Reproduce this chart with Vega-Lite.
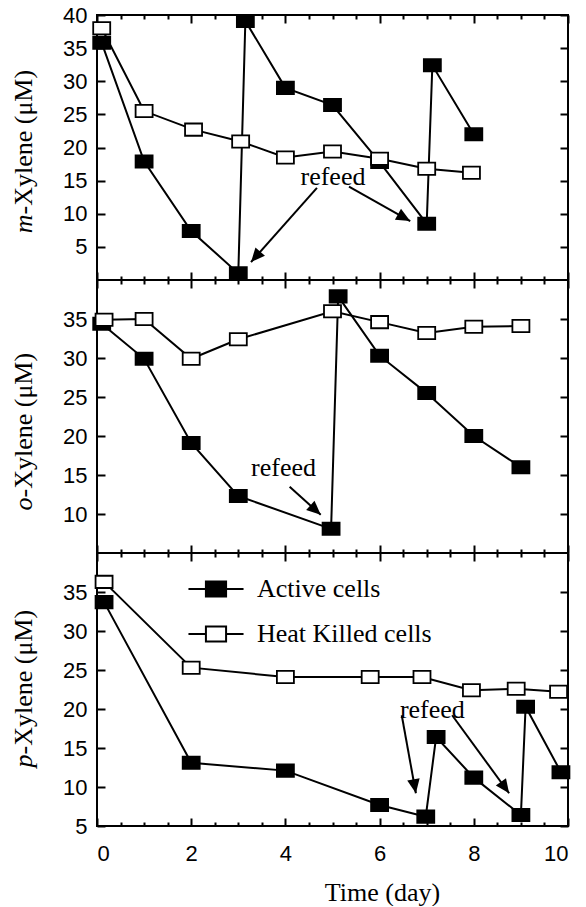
{
  "$schema": "https://vega.github.io/schema/vega-lite/v6.json",
  "background": "white",
  "padding": {"left": 9, "top": 3, "right": 5, "bottom": 0},
  "spacing": 0,
  "bounds": "flush",
  "resolve": {"scale": {"fill": "independent"}, "legend": {"fill": "independent"}},
  "datasets": {
    "pts": [
      {"panel": "m", "series": "Active cells", "day": 0.1, "value": 35.8},
      {"panel": "m", "series": "Active cells", "day": 1, "value": 17.9},
      {"panel": "m", "series": "Active cells", "day": 2, "value": 7.4},
      {"panel": "m", "series": "Active cells", "day": 3, "value": 1.0},
      {"panel": "m", "series": "Active cells", "day": 3.15, "value": 39.1},
      {"panel": "m", "series": "Active cells", "day": 4, "value": 29.0},
      {"panel": "m", "series": "Active cells", "day": 5, "value": 26.4},
      {"panel": "m", "series": "Active cells", "day": 6, "value": 17.8},
      {"panel": "m", "series": "Active cells", "day": 7, "value": 8.5},
      {"panel": "m", "series": "Active cells", "day": 7.12, "value": 32.4},
      {"panel": "m", "series": "Active cells", "day": 8, "value": 22.0},
      {"panel": "m", "series": "Heat Killed cells", "day": 0.1, "value": 38.0},
      {"panel": "m", "series": "Heat Killed cells", "day": 1, "value": 25.5},
      {"panel": "m", "series": "Heat Killed cells", "day": 2.05, "value": 22.7},
      {"panel": "m", "series": "Heat Killed cells", "day": 3.05, "value": 20.9},
      {"panel": "m", "series": "Heat Killed cells", "day": 4, "value": 18.5},
      {"panel": "m", "series": "Heat Killed cells", "day": 5, "value": 19.4},
      {"panel": "m", "series": "Heat Killed cells", "day": 6, "value": 18.3},
      {"panel": "m", "series": "Heat Killed cells", "day": 7, "value": 16.8},
      {"panel": "m", "series": "Heat Killed cells", "day": 7.95, "value": 16.2},
      {"panel": "o", "series": "Active cells", "day": 0.1, "value": 34.4},
      {"panel": "o", "series": "Active cells", "day": 1, "value": 29.9},
      {"panel": "o", "series": "Active cells", "day": 2, "value": 19.1},
      {"panel": "o", "series": "Active cells", "day": 3, "value": 12.3},
      {"panel": "o", "series": "Active cells", "day": 4.97, "value": 8.1},
      {"panel": "o", "series": "Active cells", "day": 5.12, "value": 37.9},
      {"panel": "o", "series": "Active cells", "day": 6, "value": 30.3},
      {"panel": "o", "series": "Active cells", "day": 7, "value": 25.5},
      {"panel": "o", "series": "Active cells", "day": 8, "value": 20.0},
      {"panel": "o", "series": "Active cells", "day": 9, "value": 16.0},
      {"panel": "o", "series": "Heat Killed cells", "day": 0.15, "value": 34.9},
      {"panel": "o", "series": "Heat Killed cells", "day": 1, "value": 35.0},
      {"panel": "o", "series": "Heat Killed cells", "day": 2, "value": 29.9},
      {"panel": "o", "series": "Heat Killed cells", "day": 3, "value": 32.4},
      {"panel": "o", "series": "Heat Killed cells", "day": 5, "value": 36.0},
      {"panel": "o", "series": "Heat Killed cells", "day": 6, "value": 34.6},
      {"panel": "o", "series": "Heat Killed cells", "day": 7, "value": 33.2},
      {"panel": "o", "series": "Heat Killed cells", "day": 8, "value": 34.0},
      {"panel": "o", "series": "Heat Killed cells", "day": 9, "value": 34.1},
      {"panel": "p", "series": "Active cells", "day": 0.15, "value": 33.7},
      {"panel": "p", "series": "Active cells", "day": 2, "value": 13.1},
      {"panel": "p", "series": "Active cells", "day": 4, "value": 12.1},
      {"panel": "p", "series": "Active cells", "day": 6, "value": 7.7},
      {"panel": "p", "series": "Active cells", "day": 6.98, "value": 6.2},
      {"panel": "p", "series": "Active cells", "day": 7.2, "value": 16.4},
      {"panel": "p", "series": "Active cells", "day": 8, "value": 11.2},
      {"panel": "p", "series": "Active cells", "day": 9, "value": 6.4},
      {"panel": "p", "series": "Active cells", "day": 9.1, "value": 20.3},
      {"panel": "p", "series": "Active cells", "day": 9.85, "value": 11.9},
      {"panel": "p", "series": "Heat Killed cells", "day": 0.15, "value": 36.3},
      {"panel": "p", "series": "Heat Killed cells", "day": 2, "value": 25.3},
      {"panel": "p", "series": "Heat Killed cells", "day": 4, "value": 24.1},
      {"panel": "p", "series": "Heat Killed cells", "day": 5.8, "value": 24.1},
      {"panel": "p", "series": "Heat Killed cells", "day": 6.9, "value": 24.1},
      {"panel": "p", "series": "Heat Killed cells", "day": 7.95, "value": 22.4},
      {"panel": "p", "series": "Heat Killed cells", "day": 8.9, "value": 22.6},
      {"panel": "p", "series": "Heat Killed cells", "day": 9.8, "value": 22.2}
    ],
    "notes": [
      {"panel": "m", "day": 5.01, "value": 15.6, "label": "refeed"},
      {"panel": "o", "day": 3.96, "value": 15.9, "label": "refeed"},
      {"panel": "p", "day": 7.12, "value": 19.9, "label": "refeed"}
    ],
    "arrows": [
      {"panel": "m", "id": "m1", "day": 4.67, "value": 13.9, "day2": 3.27, "value2": 2.7},
      {"panel": "m", "id": "m2", "day": 5.35, "value": 14.1, "day2": 6.65, "value2": 8.9},
      {"panel": "o", "id": "o1", "day": 4.09, "value": 13.5, "day2": 4.75, "value2": 9.9},
      {"panel": "p", "id": "p1", "day": 6.47, "value": 19.2, "day2": 6.77, "value2": 9.2},
      {"panel": "p", "id": "p2", "day": 7.54, "value": 19.2, "day2": 8.75, "value2": 9.2}
    ]
  },
  "vconcat": [
    {
      "width": 471, "height": 265,
      "resolve": {"axis": {"x": "independent", "y": "independent"}},
      "layer": [
        {"data": {"name": "pts"}, "transform": [{"filter": "datum.panel === 'm' && datum.series === 'Active cells'"}],
         "mark": {"type": "line", "color": "black", "strokeWidth": 2},
         "encoding": {
           "x": {"field": "day", "type": "quantitative", "scale": {"domain": [0, 10], "nice": false, "zero": false},
                 "axis": {"orient": "bottom", "values": [0, 2, 4, 6, 8, 10], "tickSize": -8, "tickColor": "#000000", "tickWidth": 2, "labels": false, "title": null}},
           "y": {"field": "value", "type": "quantitative", "scale": {"domain": [0, 40], "nice": false, "zero": false},
                 "axis": {"orient": "left", "values": [5, 10, 15, 20, 25, 30, 35, 40], "tickSize": -8, "tickColor": "#000000", "tickWidth": 2, "labelPadding": 18,
                          "title": "-Xylene (μM)", "titleAngle": -90, "titleAlign": "left", "titleBaseline": "alphabetic", "titleX": -66, "titleY": 199}}}},
        {"data": {"name": "pts"}, "transform": [{"filter": "datum.panel === 'm' && datum.series === 'Heat Killed cells'"}],
         "mark": {"type": "line", "color": "black", "strokeWidth": 2},
         "encoding": {
           "x": {"field": "day", "type": "quantitative", "scale": {"domain": [0, 10], "nice": false, "zero": false},
                 "axis": {"orient": "top", "values": [0, 2, 4, 6, 8, 10], "tickSize": -8, "tickColor": "#000000", "tickWidth": 2, "labels": false, "title": null}},
           "y": {"field": "value", "type": "quantitative", "scale": {"domain": [0, 40], "nice": false, "zero": false},
                 "axis": {"orient": "right", "values": [5, 10, 15, 20, 25, 30, 35, 40], "tickSize": -8, "tickColor": "#000000", "tickWidth": 2, "labels": false, "title": null}}}},
        {"data": {"name": "arrows"}, "transform": [{"filter": "datum.panel === 'm'"}],
         "mark": {"type": "rule", "color": "black", "strokeWidth": 2},
         "encoding": {
           "x": {"field": "day", "type": "quantitative", "scale": {"domain": [0, 10], "nice": false, "zero": false},
                 "axis": {"orient": "bottom", "values": [0.5, 1, 1.5, 2.5, 3, 3.5, 4.5, 5, 5.5, 6.5, 7, 7.5, 8.5, 9, 9.5], "tickSize": -4, "tickColor": "#000000", "tickWidth": 2, "labels": false, "title": null}},
           "y": {"field": "value", "type": "quantitative", "scale": {"domain": [0, 40], "nice": false, "zero": false},
                 "axis": {"orient": "left", "ticks": false, "labels": false, "title": "m", "titleFontStyle": "italic", "titleAngle": -90, "titleAlign": "right", "titleBaseline": "alphabetic", "titleX": -66, "titleY": 199}},
           "x2": {"field": "day2"},
           "y2": {"field": "value2"}}},
        {"data": {"name": "notes"}, "transform": [{"filter": "datum.panel === 'm'"}],
         "mark": {"type": "text", "font": "Liberation Serif", "fontSize": 26, "color": "black", "align": "center", "baseline": "middle"},
         "encoding": {
           "x": {"field": "day", "type": "quantitative", "scale": {"domain": [0, 10], "nice": false, "zero": false},
                 "axis": {"orient": "top", "values": [0.5, 1, 1.5, 2.5, 3, 3.5, 4.5, 5, 5.5, 6.5, 7, 7.5, 8.5, 9, 9.5], "tickSize": -4, "tickColor": "#000000", "tickWidth": 2, "labels": false, "title": null}},
           "y": {"field": "value", "type": "quantitative", "scale": {"domain": [0, 40], "nice": false, "zero": false}, "axis": null},
           "text": {"field": "label"}}},
        {"data": {"name": "pts"}, "transform": [{"filter": "datum.panel === 'm'"}],
         "mark": {"type": "point", "shape": "M-1,-0.72H1V0.72H-1Z", "size": 289, "filled": true, "opacity": 1, "stroke": "black", "strokeWidth": 1.8},
         "encoding": {
           "x": {"field": "day", "type": "quantitative", "scale": {"domain": [0, 10], "nice": false, "zero": false}, "axis": null},
           "y": {"field": "value", "type": "quantitative", "scale": {"domain": [0, 40], "nice": false, "zero": false}, "axis": null},
           "fill": {"field": "series", "type": "nominal", "scale": {"domain": ["Active cells", "Heat Killed cells"], "range": ["black", "white"]}, "legend": null}}},
        {"data": {"name": "arrows"}, "transform": [{"filter": "datum.id === 'm1'"}],
         "mark": {"type": "point", "shape": "M0,0L0.45,1L-0.45,1Z", "size": 784, "filled": true, "opacity": 1, "color": "black", "angle": 221},
         "encoding": {
           "x": {"field": "day2", "type": "quantitative", "scale": {"domain": [0, 10], "nice": false, "zero": false}, "axis": null},
           "y": {"field": "value2", "type": "quantitative", "scale": {"domain": [0, 40], "nice": false, "zero": false}, "axis": null}}},
        {"data": {"name": "arrows"}, "transform": [{"filter": "datum.id === 'm2'"}],
         "mark": {"type": "point", "shape": "M0,0L0.45,1L-0.45,1Z", "size": 784, "filled": true, "opacity": 1, "color": "black", "angle": 119},
         "encoding": {
           "x": {"field": "day2", "type": "quantitative", "scale": {"domain": [0, 10], "nice": false, "zero": false}, "axis": null},
           "y": {"field": "value2", "type": "quantitative", "scale": {"domain": [0, 40], "nice": false, "zero": false}, "axis": null}}}
      ]
    },
    {
      "width": 471, "height": 273,
      "resolve": {"axis": {"x": "independent", "y": "independent"}},
      "layer": [
        {"data": {"name": "pts"}, "transform": [{"filter": "datum.panel === 'o' && datum.series === 'Active cells'"}],
         "mark": {"type": "line", "color": "black", "strokeWidth": 2},
         "encoding": {
           "x": {"field": "day", "type": "quantitative", "scale": {"domain": [0, 10], "nice": false, "zero": false},
                 "axis": {"orient": "bottom", "values": [0, 2, 4, 6, 8, 10], "tickSize": -8, "tickColor": "#000000", "tickWidth": 2, "labels": false, "title": null}},
           "y": {"field": "value", "type": "quantitative", "scale": {"domain": [5, 40], "nice": false, "zero": false},
                 "axis": {"orient": "left", "values": [10, 15, 20, 25, 30, 35], "tickSize": -8, "tickColor": "#000000", "tickWidth": 2, "labelPadding": 18,
                          "title": "-Xylene (μM)", "titleAngle": -90, "titleAlign": "left", "titleBaseline": "alphabetic", "titleX": -66, "titleY": 217}}}},
        {"data": {"name": "pts"}, "transform": [{"filter": "datum.panel === 'o' && datum.series === 'Heat Killed cells'"}],
         "mark": {"type": "line", "color": "black", "strokeWidth": 2},
         "encoding": {
           "x": {"field": "day", "type": "quantitative", "scale": {"domain": [0, 10], "nice": false, "zero": false},
                 "axis": {"orient": "top", "values": [0, 2, 4, 6, 8, 10], "tickSize": -8, "tickColor": "#000000", "tickWidth": 2, "labels": false, "title": null}},
           "y": {"field": "value", "type": "quantitative", "scale": {"domain": [5, 40], "nice": false, "zero": false},
                 "axis": {"orient": "right", "values": [10, 15, 20, 25, 30, 35], "tickSize": -8, "tickColor": "#000000", "tickWidth": 2, "labels": false, "title": null}}}},
        {"data": {"name": "arrows"}, "transform": [{"filter": "datum.panel === 'o'"}],
         "mark": {"type": "rule", "color": "black", "strokeWidth": 2},
         "encoding": {
           "x": {"field": "day", "type": "quantitative", "scale": {"domain": [0, 10], "nice": false, "zero": false},
                 "axis": {"orient": "bottom", "values": [0.5, 1, 1.5, 2.5, 3, 3.5, 4.5, 5, 5.5, 6.5, 7, 7.5, 8.5, 9, 9.5], "tickSize": -4, "tickColor": "#000000", "tickWidth": 2, "labels": false, "title": null}},
           "y": {"field": "value", "type": "quantitative", "scale": {"domain": [5, 40], "nice": false, "zero": false},
                 "axis": {"orient": "left", "ticks": false, "labels": false, "title": "o", "titleFontStyle": "italic", "titleAngle": -90, "titleAlign": "right", "titleBaseline": "alphabetic", "titleX": -66, "titleY": 217}},
           "x2": {"field": "day2"},
           "y2": {"field": "value2"}}},
        {"data": {"name": "notes"}, "transform": [{"filter": "datum.panel === 'o'"}],
         "mark": {"type": "text", "font": "Liberation Serif", "fontSize": 26, "color": "black", "align": "center", "baseline": "middle"},
         "encoding": {
           "x": {"field": "day", "type": "quantitative", "scale": {"domain": [0, 10], "nice": false, "zero": false},
                 "axis": {"orient": "top", "values": [0.5, 1, 1.5, 2.5, 3, 3.5, 4.5, 5, 5.5, 6.5, 7, 7.5, 8.5, 9, 9.5], "tickSize": -4, "tickColor": "#000000", "tickWidth": 2, "labels": false, "title": null}},
           "y": {"field": "value", "type": "quantitative", "scale": {"domain": [5, 40], "nice": false, "zero": false}, "axis": null},
           "text": {"field": "label"}}},
        {"data": {"name": "pts"}, "transform": [{"filter": "datum.panel === 'o'"}],
         "mark": {"type": "point", "shape": "M-1,-0.72H1V0.72H-1Z", "size": 289, "filled": true, "opacity": 1, "stroke": "black", "strokeWidth": 1.8},
         "encoding": {
           "x": {"field": "day", "type": "quantitative", "scale": {"domain": [0, 10], "nice": false, "zero": false}, "axis": null},
           "y": {"field": "value", "type": "quantitative", "scale": {"domain": [5, 40], "nice": false, "zero": false}, "axis": null},
           "fill": {"field": "series", "type": "nominal", "scale": {"domain": ["Active cells", "Heat Killed cells"], "range": ["black", "white"]}, "legend": null}}},
        {"data": {"name": "arrows"}, "transform": [{"filter": "datum.id === 'o1'"}],
         "mark": {"type": "point", "shape": "M0,0L0.45,1L-0.45,1Z", "size": 784, "filled": true, "opacity": 1, "color": "black", "angle": 132},
         "encoding": {
           "x": {"field": "day2", "type": "quantitative", "scale": {"domain": [0, 10], "nice": false, "zero": false}, "axis": null},
           "y": {"field": "value2", "type": "quantitative", "scale": {"domain": [5, 40], "nice": false, "zero": false}, "axis": null}}}
      ]
    },
    {
      "width": 471, "height": 273,
      "resolve": {"axis": {"x": "independent", "y": "independent"}},
      "layer": [
        {"data": {"name": "pts"}, "transform": [{"filter": "datum.panel === 'p' && datum.series === 'Active cells'"}],
         "mark": {"type": "line", "color": "black", "strokeWidth": 2},
         "encoding": {
           "x": {"field": "day", "type": "quantitative", "scale": {"domain": [0, 10], "nice": false, "zero": false},
                 "axis": {"orient": "bottom", "values": [0, 2, 4, 6, 8, 10], "tickSize": -8, "tickColor": "#000000", "tickWidth": 2, "labelPadding": 25,
                          "title": "Time (day)", "titleAlign": "center", "titleBaseline": "alphabetic", "titleX": 285, "titleY": 74}},
           "y": {"field": "value", "type": "quantitative", "scale": {"domain": [5, 40], "nice": false, "zero": false},
                 "axis": {"orient": "left", "values": [5, 10, 15, 20, 25, 30, 35], "tickSize": -8, "tickColor": "#000000", "tickWidth": 2, "labelPadding": 18,
                          "title": "-Xylene (μM)", "titleAngle": -90, "titleAlign": "left", "titleBaseline": "alphabetic", "titleX": -66, "titleY": 201}}}},
        {"data": {"name": "pts"}, "transform": [{"filter": "datum.panel === 'p' && datum.series === 'Heat Killed cells'"}],
         "mark": {"type": "line", "color": "black", "strokeWidth": 2},
         "encoding": {
           "x": {"field": "day", "type": "quantitative", "scale": {"domain": [0, 10], "nice": false, "zero": false},
                 "axis": {"orient": "top", "values": [0, 2, 4, 6, 8, 10], "tickSize": -8, "tickColor": "#000000", "tickWidth": 2, "labels": false, "title": null}},
           "y": {"field": "value", "type": "quantitative", "scale": {"domain": [5, 40], "nice": false, "zero": false},
                 "axis": {"orient": "right", "values": [5, 10, 15, 20, 25, 30, 35], "tickSize": -8, "tickColor": "#000000", "tickWidth": 2, "labels": false, "title": null}}}},
        {"data": {"name": "arrows"}, "transform": [{"filter": "datum.panel === 'p'"}],
         "mark": {"type": "rule", "color": "black", "strokeWidth": 2},
         "encoding": {
           "x": {"field": "day", "type": "quantitative", "scale": {"domain": [0, 10], "nice": false, "zero": false},
                 "axis": {"orient": "bottom", "values": [0.5, 1, 1.5, 2.5, 3, 3.5, 4.5, 5, 5.5, 6.5, 7, 7.5, 8.5, 9, 9.5], "tickSize": -4, "tickColor": "#000000", "tickWidth": 2, "labels": false, "title": null}},
           "y": {"field": "value", "type": "quantitative", "scale": {"domain": [5, 40], "nice": false, "zero": false},
                 "axis": {"orient": "left", "ticks": false, "labels": false, "title": "p", "titleFontStyle": "italic", "titleAngle": -90, "titleAlign": "right", "titleBaseline": "alphabetic", "titleX": -66, "titleY": 201}},
           "x2": {"field": "day2"},
           "y2": {"field": "value2"}}},
        {"data": {"name": "notes"}, "transform": [{"filter": "datum.panel === 'p'"}],
         "mark": {"type": "text", "font": "Liberation Serif", "fontSize": 26, "color": "black", "align": "center", "baseline": "middle"},
         "encoding": {
           "x": {"field": "day", "type": "quantitative", "scale": {"domain": [0, 10], "nice": false, "zero": false},
                 "axis": {"orient": "top", "values": [0.5, 1, 1.5, 2.5, 3, 3.5, 4.5, 5, 5.5, 6.5, 7, 7.5, 8.5, 9, 9.5], "tickSize": -4, "tickColor": "#000000", "tickWidth": 2, "labels": false, "title": null}},
           "y": {"field": "value", "type": "quantitative", "scale": {"domain": [5, 40], "nice": false, "zero": false}, "axis": null},
           "text": {"field": "label"}}},
        {"data": {"name": "pts"}, "transform": [{"filter": "datum.panel === 'p'"}],
         "mark": {"type": "point", "shape": "M-1,-0.72H1V0.72H-1Z", "size": 289, "filled": true, "opacity": 1, "stroke": "black", "strokeWidth": 1.8},
         "encoding": {
           "x": {"field": "day", "type": "quantitative", "scale": {"domain": [0, 10], "nice": false, "zero": false}, "axis": null},
           "y": {"field": "value", "type": "quantitative", "scale": {"domain": [5, 40], "nice": false, "zero": false}, "axis": null},
           "fill": {"field": "series", "type": "nominal", "scale": {"domain": ["Active cells", "Heat Killed cells"], "range": ["black", "white"]},
                    "legend": {"orient": "none", "legendX": 100, "legendY": 17, "title": null, "padding": 0,
                               "symbolType": "M-1.53,0H-0.56M0.56,0H1.53M-0.56,-0.42H0.56V0.42H-0.56Z", "symbolSize": 1296,
                               "symbolStrokeColor": "black", "symbolStrokeWidth": 2, "symbolOpacity": 1,
                               "labelFont": "Liberation Serif", "labelFontSize": 26, "labelColor": "black", "labelOffset": 22, "labelLimit": 400,
                               "rowPadding": 13}}}},
        {"data": {"name": "arrows"}, "transform": [{"filter": "datum.id === 'p1'"}],
         "mark": {"type": "point", "shape": "M0,0L0.45,1L-0.45,1Z", "size": 784, "filled": true, "opacity": 1, "color": "black", "angle": 170},
         "encoding": {
           "x": {"field": "day2", "type": "quantitative", "scale": {"domain": [0, 10], "nice": false, "zero": false}, "axis": null},
           "y": {"field": "value2", "type": "quantitative", "scale": {"domain": [5, 40], "nice": false, "zero": false}, "axis": null}}},
        {"data": {"name": "arrows"}, "transform": [{"filter": "datum.id === 'p2'"}],
         "mark": {"type": "point", "shape": "M0,0L0.45,1L-0.45,1Z", "size": 784, "filled": true, "opacity": 1, "color": "black", "angle": 144},
         "encoding": {
           "x": {"field": "day2", "type": "quantitative", "scale": {"domain": [0, 10], "nice": false, "zero": false}, "axis": null},
           "y": {"field": "value2", "type": "quantitative", "scale": {"domain": [5, 40], "nice": false, "zero": false}, "axis": null}}}
      ]
    }
  ],
  "config": {
    "view": {"stroke": "black", "strokeWidth": 2},
    "axis": {"grid": false, "domain": false, "labelFont": "Liberation Sans", "labelFontSize": 22, "titleFont": "Liberation Serif", "titleFontSize": 26, "titleFontWeight": "normal"}
  }
}
